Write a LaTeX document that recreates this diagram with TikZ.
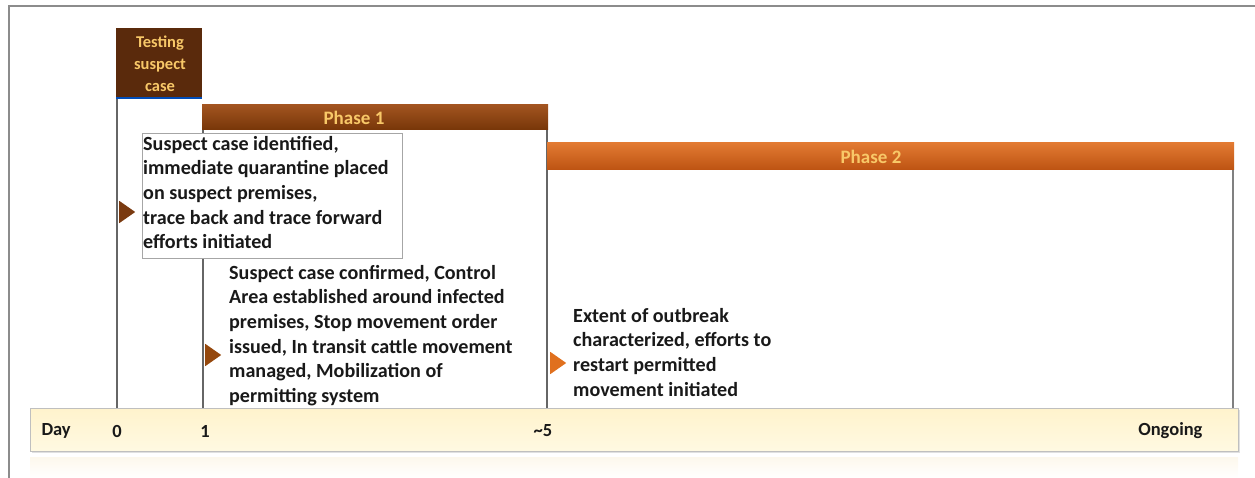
\documentclass[tikz,border=0pt]{standalone}
\usepackage{fontspec}
\setmainfont{Carlito}
\begin{document}
\begin{tikzpicture}[x=1pt,y=-1pt,
  vline/.style={draw=black!60,line width=1.3pt},
  body/.style={font=\bfseries\fontsize{20.1}{24.6}\selectfont,anchor=north west,align=left,inner sep=0pt,text=black!90},
  tri/.style={isosceles triangle,isosceles triangle apex angle=70,minimum height=16pt,minimum width=15pt,inner sep=0pt,anchor=west},
  phaselbl/.style={font=\bfseries\fontsize{19}{20}\selectfont,text=gold},
  daylbl/.style={font=\bfseries\fontsize{18.5}{20}\selectfont,text=black!90}
]
\usetikzlibrary{shapes.geometric}
\definecolor{gold}{HTML}{F8C868}
\definecolor{darkbrown}{HTML}{5A2A0C}
\definecolor{p1top}{HTML}{A25420}
\definecolor{p1bot}{HTML}{773608}
\definecolor{p2top}{HTML}{E27A32}
\definecolor{p2bot}{HTML}{BD5312}
\definecolor{tribrown}{HTML}{7A3A10}
\definecolor{triorange}{HTML}{E0701E}
\definecolor{daytop}{HTML}{FFF3CC}
\definecolor{daybot}{HTML}{FFF9E2}
\definecolor{bandtop}{HTML}{FDF8EC}
\useasboundingbox (0,0) rectangle (1255,478);
% outer frame
\draw[black!45,line width=1.5pt] (9,478) -- (9,6) -- (1255,6);
% bottom faint band
\shade[top color=bandtop,bottom color=white] (30,457) rectangle (1238,478);
% day bar
\fill[black!12] (32,410) rectangle (1240,453);
\shade[top color=daytop,bottom color=daybot,draw=black!25,line width=0.8pt] (30,408) rectangle (1238,451);
\node[daylbl,anchor=west] (day) at (38,431) {Day};
\node[daylbl] (d0) at (117,431) {0};
\node[daylbl] (d1) at (205,431) {1};
\node[daylbl] (d5) at (543,431) {\char`~5};
\node[daylbl,anchor=east] (dong) at (1206,431) {Ongoing};
% vertical lines
\draw[vline] (117,98) -- (117,408);
\draw[vline] (203,130) -- (203,408);
\draw[vline] (547,130) -- (547,408);
\draw[vline,black!50] (1233,170) -- (1233,408);
% testing box
\fill[darkbrown] (116,28) rectangle (202,98);
\draw[blue!60!black!70!cyan,line width=1.5pt] (116,98) -- (202,98);
\node[font=\bfseries\fontsize{16.5}{22}\selectfont,text=gold,align=center] (test) at (160,64) {Testing\\suspect\\case};
% phase 1 bar
\shade[top color=p1top,bottom color=p1bot] (202,105) rectangle (548,130);
\node[phaselbl] (ph1) at (354,118) {Phase 1};
% phase 2 bar
\shade[top color=p2top,bottom color=p2bot] (547,143) rectangle (1234,170);
\node[phaselbl] (ph2) at (871,157) {Phase 2};
% box 1
\draw[black!35,fill=white,line width=0.8pt] (142,133) rectangle (402,258);
\node[body] (t1) at (143,136) {Suspect case identified,\\immediate quarantine placed\\on suspect premises,\\trace back and trace forward\\efforts initiated};
\node[body] (t2) at (229,265) {Suspect case confirmed, Control\\Area established around infected\\premises, Stop movement order\\issued, In transit cattle movement\\managed, Mobilization of\\permitting system};
\node[body] (t3) at (573,308) {Extent of outbreak\\characterized, efforts to\\restart permitted\\movement initiated};
% triangles
\node[tri,fill=tribrown] (a1) at (119,212) {};
\node[tri,fill=tribrown!80!orange] (a2) at (205,355) {};
\node[tri,fill=triorange] (a3) at (550,363) {};
\end{tikzpicture}
\end{document}
